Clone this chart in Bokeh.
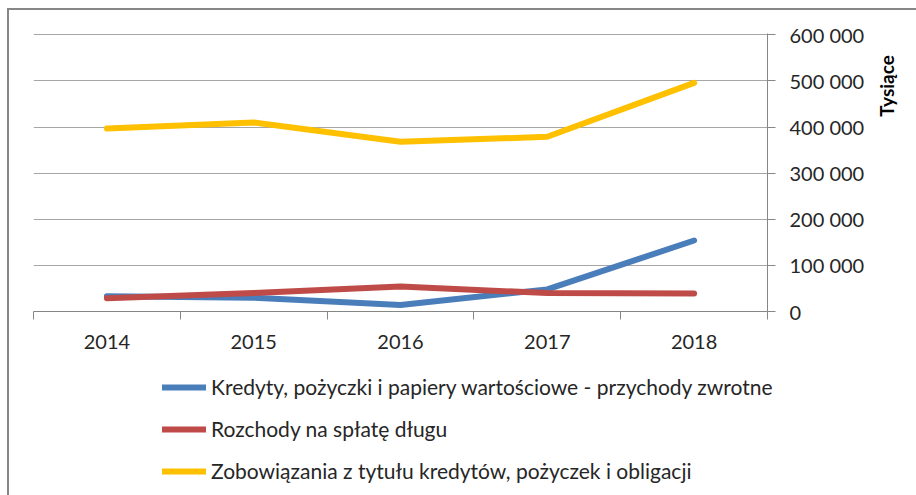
import math
from bokeh.plotting import figure
from bokeh.layouts import row, column
from bokeh.models import Range1d, FixedTicker, Legend, LegendItem, Label
from bokeh.embed import file_html
from bokeh.resources import INLINE

# ---- data ----
years = [2014, 2015, 2016, 2017, 2018]
kredyty = [33000, 30000, 14000, 48000, 154000]
rozchody = [29000, 40000, 54000, 40000, 39000]
zobowiazania = [397000, 410000, 368000, 379000, 496000]

series_names = [
    "Kredyty, pożyczki i papiery wartościowe - przychody zwrotne",
    "Rozchody na spłatę długu",
    "Zobowiązania z tytułu kredytów, pożyczek i obligacji",
]
series_colors = ["#4A7EBB", "#BE4B48", "#FFC000"]
series_values = [kredyty, rozchody, zobowiazania]

y_ticks = [0, 100000, 200000, 300000, 400000, 500000, 600000]
y_tick_labels = ["0", "100 000", "200 000", "300 000", "400 000", "500 000", "600 000"]
y_axis_title = "Tysiące"

FONT = "Lato"
TXT = "#262626"
GRID = "#A6A6A6"
AXIS = "#868686"


def bare(fig):
    fig.outline_line_color = None
    fig.background_fill_color = "white"
    fig.border_fill_color = "white"


# ---- main chart ----
p = figure(
    width=859, height=350,
    output_backend="svg", toolbar_location=None,
    x_range=Range1d(years[0] - 0.5, years[-1] + 0.5),
    y_range=Range1d(y_ticks[0], y_ticks[-1] * 1.005),
    y_axis_location="right",
    min_border_left=24, min_border_right=101,
    min_border_top=23, min_border_bottom=49,
)
bare(p)
p.xgrid.visible = False
p.ygrid.grid_line_color = GRID
p.ygrid.grid_line_width = 1

xa = p.xaxis[0]
xa.ticker = FixedTicker(ticks=years, minor_ticks=[y - 0.5 for y in years] + [years[-1] + 0.5])
xa.major_tick_out = 0
xa.major_tick_in = 0
xa.minor_tick_out = 8
xa.minor_tick_in = 0
xa.minor_tick_line_color = AXIS
xa.axis_line_color = AXIS
xa.major_label_text_font = FONT
xa.major_label_text_font_size = "20px"
xa.major_label_text_color = TXT
xa.major_label_standoff = 15

ya = p.yaxis[0]
ya.ticker = FixedTicker(ticks=y_ticks, minor_ticks=[])
ya.major_label_overrides = {t: s for t, s in zip(y_ticks, y_tick_labels)}
ya.major_tick_out = 8
ya.major_tick_in = 0
ya.minor_tick_out = 0
ya.minor_tick_in = 0
ya.major_tick_line_color = AXIS
ya.axis_line_color = AXIS
ya.major_label_text_font = FONT
ya.major_label_text_font_size = "20px"
ya.major_label_text_color = TXT
ya.major_label_standoff = 14

for vals, color in zip(series_values, series_colors):
    p.line(years, vals, line_color=color, line_width=6,
           line_cap="round", line_join="round")

# ---- narrow side figure carrying the rotated unit title ----
p2 = figure(
    width=48, height=350,
    output_backend="svg", toolbar_location=None,
    x_range=Range1d(0, 48), y_range=Range1d(0, 350),
    x_axis_type=None, y_axis_type=None, min_border=0,
)
bare(p2)
p2.xgrid.visible = False
p2.ygrid.visible = False
p2.add_layout(Label(
    x=18, y=284, text=y_axis_title, angle=math.pi / 2,
    text_align="center", text_baseline="middle",
    text_font=FONT, text_font_style="bold", text_font_size="19px",
    text_color="#000000",
))

# ---- legend strip below the chart ----
p3 = figure(
    width=907, height=135,
    output_backend="svg", toolbar_location=None,
    x_range=Range1d(0, 1), y_range=Range1d(0, 1),
    x_axis_type=None, y_axis_type=None, min_border=0,
)
bare(p3)
p3.xgrid.visible = False
p3.ygrid.visible = False
leg_renderers = []
for vals, color in zip(series_values, series_colors):
    r = p3.line(years, vals, line_color=color, line_width=6,
                line_cap="round", line_join="round", visible=False)
    leg_renderers.append(r)

legend = Legend(
    items=[LegendItem(label=n, renderers=[r]) for n, r in zip(series_names, leg_renderers)],
    location=(153, 12),
    orientation="vertical",
    glyph_width=44, glyph_height=20,
    label_standoff=5, label_height=20,
    spacing=17, padding=0, margin=0,
    border_line_color=None, background_fill_alpha=0,
    label_text_font=FONT, label_text_font_size="21px", label_text_color=TXT,
)
p3.add_layout(legend)

layout = column(
    row(p, p2),
    p3,
    styles={
        "margin-left": "7px", "margin-top": "8px",
        "border-left": "2px solid #878787", "border-top": "2px solid #878787",
    },
)

open("out.html", "w").write(file_html(layout, INLINE))
